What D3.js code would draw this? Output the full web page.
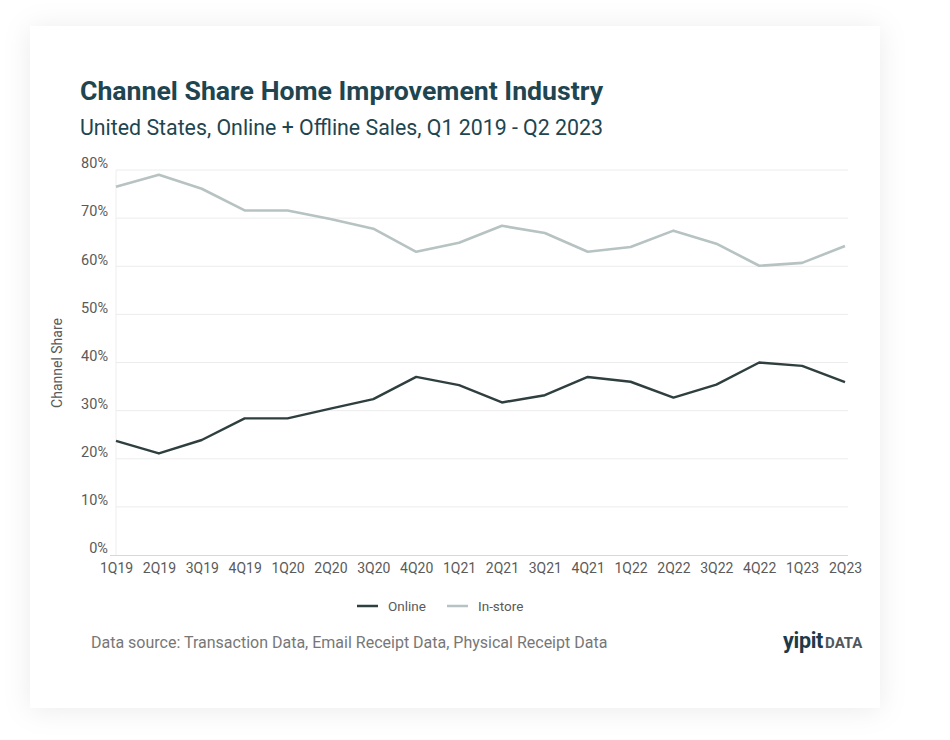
<!DOCTYPE html>
<html>
<head>
<meta charset="utf-8">
<script src="https://cdn.jsdelivr.net/npm/d3@7"></script>
<style>
  html, body { margin: 0; padding: 0; background: #ffffff; }
  svg { display: block; }
  text { font-family: Roboto, "Noto Sans", sans-serif; }
</style>
</head>
<body>
<svg id="chart" width="950" height="740"></svg>
<script>
const quarters = ["1Q19","2Q19","3Q19","4Q19","1Q20","2Q20","3Q20","4Q20","1Q21","2Q21","3Q21","4Q21","1Q22","2Q22","3Q22","4Q22","1Q23","2Q23"];
const online  = [23.7, 21.1, 23.9, 28.4, 28.4, 30.4, 32.4, 37.0, 35.3, 31.7, 33.2, 37.0, 36.0, 32.7, 35.4, 40.0, 39.3, 35.9];
const instore = [76.5, 79.0, 76.1, 71.6, 71.6, 69.8, 67.8, 63.0, 64.9, 68.4, 66.9, 63.0, 64.0, 67.4, 64.7, 60.1, 60.7, 64.2];
const yTicks = [0, 10, 20, 30, 40, 50, 60, 70, 80];
const seriesNames = ["Online", "In-store"];
const seriesColors = ["#2f3f3f", "#b7c2c2"];

const svg = d3.select("#chart");
const defs = svg.append("defs");
const f = defs.append("filter").attr("id","sh").attr("x","-10%").attr("y","-10%").attr("width","120%").attr("height","120%");
f.append("feDropShadow").attr("dx",0).attr("dy",2).attr("stdDeviation",14).attr("flood-color","#000").attr("flood-opacity",0.08);

svg.append("rect").attr("x",0).attr("y",0).attr("width",950).attr("height",740).attr("fill","#ffffff");
svg.append("rect").attr("x",30).attr("y",26).attr("width",850).attr("height",682).attr("fill","#ffffff").attr("filter","url(#sh)");

function fit(sel, w) {
  let fs = parseFloat(sel.attr("font-size"));
  for (let i = 0; i < 4; i++) {
    const len = sel.node().getComputedTextLength();
    fs = fs * w / len;
    sel.attr("font-size", fs);
  }
}

const title = svg.append("text").attr("x",80).attr("y",100).attr("font-size",24).attr("font-weight",700)
  .attr("fill","#1e4550").text("Channel Share Home Improvement Industry");
fit(title, 523);
const sub = svg.append("text").attr("x",80).attr("y",135).attr("font-size",19).attr("font-weight",400)
  .attr("fill","#1e4550").text("United States, Online + Offline Sales, Q1 2019 - Q2 2023");
fit(sub, 523);

const x = d3.scalePoint().domain(quarters).range([116, 845]);
const y = d3.scaleLinear().domain([0, 80]).range([555, 170]);

// gridlines
svg.append("g").selectAll("line").data(yTicks.filter(d => d > 0)).join("line")
  .attr("x1",116).attr("x2",848).attr("y1",d=>y(d)).attr("y2",d=>y(d))
  .attr("stroke","#ececec").attr("stroke-width",1);

// y axis line
svg.append("line").attr("x1",116).attr("x2",116).attr("y1",y(80)).attr("y2",y(0)).attr("stroke","#eeeeee");

// x axis
const xAxis = svg.append("g").attr("transform","translate(0,"+y(0)+")")
  .call(d3.axisBottom(x).tickSize(0).tickPadding(8));
xAxis.attr("font-size",14).attr("font-family","Roboto, sans-serif");
xAxis.select(".domain").attr("stroke","#d8d8d8").attr("d","M110,0.5H848");
xAxis.selectAll("text").attr("fill","#5a5a5a");

// y axis
const yAxis = svg.append("g").attr("transform","translate(108,0)")
  .call(d3.axisLeft(y).tickValues(yTicks).tickFormat(d => d + "%").tickSize(0).tickPadding(0));
yAxis.attr("font-size",14.5).attr("font-family","Roboto, sans-serif");
yAxis.select(".domain").remove();
yAxis.selectAll("text").attr("fill","#5a5a5a").attr("dy","-0.15em");

svg.append("text").attr("transform","translate(62,363) rotate(-90)").attr("text-anchor","middle")
  .attr("font-size",14).attr("fill","#5a5a5a").text("Channel Share");

const line = d3.line().x((d,i)=>x(quarters[i])).y(d=>y(d));
svg.append("path").datum(instore).attr("d",line).attr("fill","none").attr("stroke",seriesColors[1]).attr("stroke-width",2.6).attr("stroke-linejoin","round");
svg.append("path").datum(online).attr("d",line).attr("fill","none").attr("stroke",seriesColors[0]).attr("stroke-width",2.4).attr("stroke-linejoin","round");

// legend
const legX = [357, 447];
seriesNames.forEach((n,i) => {
  svg.append("line").attr("x1",legX[i]).attr("x2",legX[i]+21).attr("y1",606).attr("y2",606)
    .attr("stroke",seriesColors[i]).attr("stroke-width",2.5);
  svg.append("text").attr("x",legX[i]+31).attr("y",611).attr("font-size",13.5).attr("fill","#5a5a5a").text(n);
});

// footer
const foot = svg.append("text").attr("x",91).attr("y",648).attr("font-size",14.5).attr("fill","#777777")
  .text("Data source: Transaction Data, Email Receipt Data, Physical Receipt Data");
fit(foot, 516);

const logo = svg.append("text").attr("x",783).attr("y",648).attr("font-weight",700);
logo.append("tspan").attr("font-size",21.5).attr("fill","#1c3a4a").attr("letter-spacing","-0.3").text("yipit");
logo.append("tspan").attr("font-size",15).attr("fill","#50585c").attr("dx",2).text("DATA");
</script>
</body>
</html>
